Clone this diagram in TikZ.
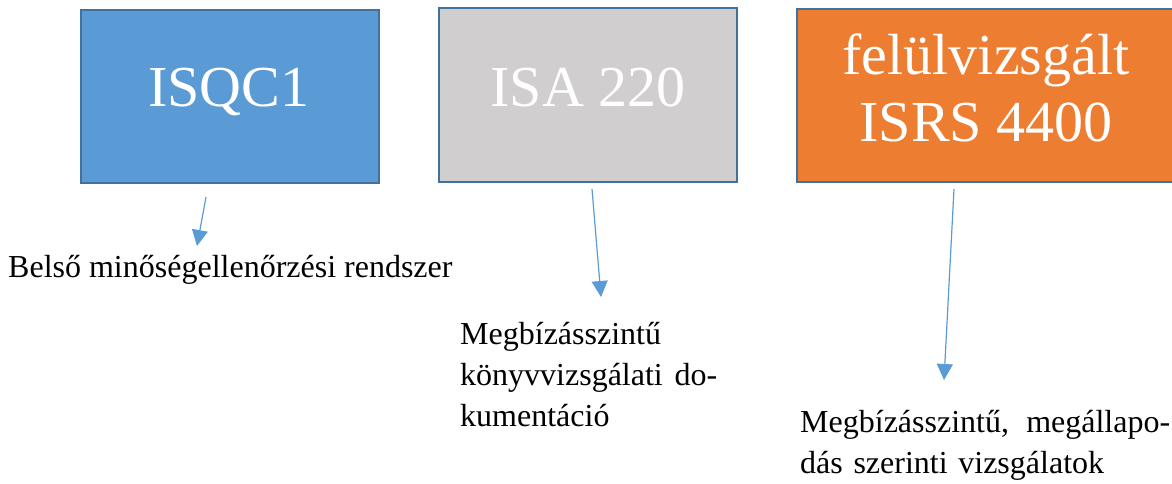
\documentclass[tikz,border=0pt]{standalone}
\usepackage{fontspec}
\setmainfont{Liberation Serif}
\usetikzlibrary{arrows.meta}
\definecolor{stdblue}{HTML}{5B9BD5}
\definecolor{stdgray}{HTML}{D0CECE}
\definecolor{stdorange}{HTML}{ED7D31}
\definecolor{stdedge}{HTML}{41719C}
\begin{document}
\begin{tikzpicture}[x=1pt,y=-1pt,
  stdbox/.style={draw=stdedge,line width=2pt},
  boxtext/.style={text=white,inner sep=0pt,anchor=base,font=\fontsize{58}{67}\selectfont},
  note/.style={inner sep=0pt,anchor=base west,align=left,font=\fontsize{32}{41}\selectfont},
  pointer/.style={draw=stdblue,line width=1.2pt,-{Triangle[length=16pt,width=16pt]}}]
\useasboundingbox (0,0) rectangle (1172,484);
% the three standards
\filldraw[stdbox,fill=stdblue]   (81,10) rectangle (379,183);
\filldraw[stdbox,fill=stdgray]   (439,8) rectangle (737,182);
\filldraw[stdbox,fill=stdorange] (797,9) rectangle (1176,182);
\node[boxtext] (isqc) at (229,107) {ISQC1};
\node[boxtext] (isa) at (588,107) {ISA 220};
\node[boxtext] (isrs1) at (986,75) {felülvizsgált};
\node[boxtext] (isrs2) at (986,142) {ISRS 4400};
% what each standard covers
\node[note] (n1) at (8,277) {Belső minőségellenőrzési rendszer};
\node[note,text width=257pt] (n2) at (460,344) {Megbízásszintű\\könyvvizsgálati\hfill do-\\kumentáció};
\node[note,text width=370pt] (n3) at (800,432) {Megbízásszintű,\hfill megállapo-\\dás szerinti vizsgálatok};
% pointers from the standards to their scope
\coordinate (s1) at (206,197);  \coordinate (e1) at (197,246);
\coordinate (s2) at (592,189);  \coordinate (e2) at (601,297);
\coordinate (s3) at (954,189);  \coordinate (e3) at (944,380);
\draw[pointer] (s1) -- (e1);
\draw[pointer] (s2) -- (e2);
\draw[pointer] (s3) -- (e3);
\end{tikzpicture}
\end{document}
